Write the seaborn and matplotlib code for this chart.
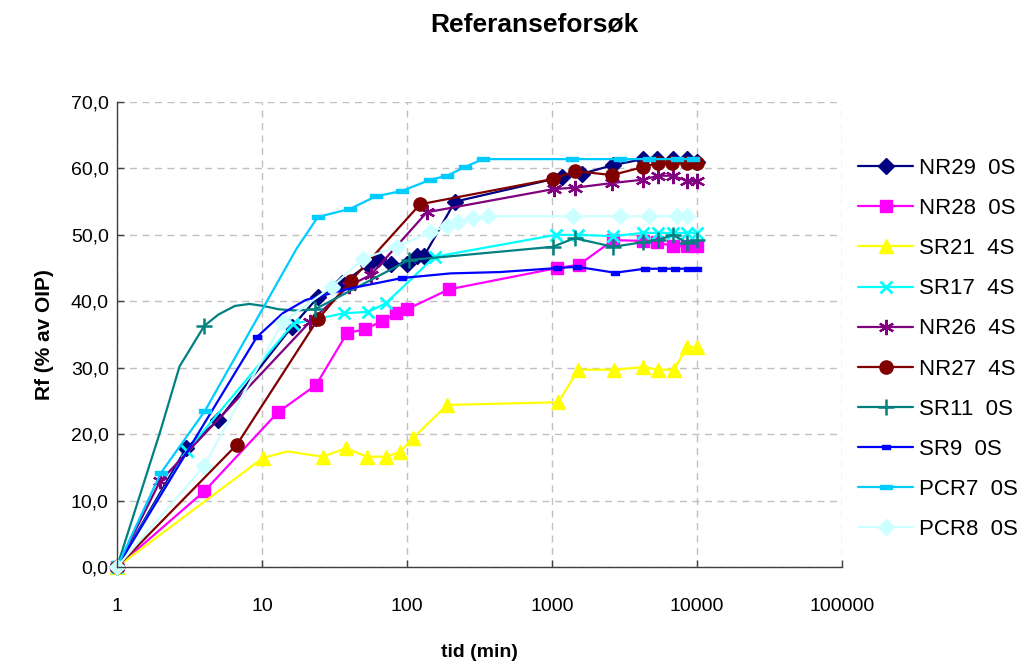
import numpy as np
import pandas as pd
import matplotlib
matplotlib.use("Agg")
import matplotlib.pyplot as plt
from matplotlib.ticker import FuncFormatter, FixedLocator, NullLocator
import seaborn as sns

# ---------------- data ----------------
NR29_t = [1, 3, 5, 16, 24.3, 35.6, 53.9, 63, 77.5, 100, 117, 131, 214, 1170, 1610, 2640, 4240, 5300, 6830, 8530, 10000]
NR29_y = [0, 17.9, 22.1, 36.1, 40.6, 42.7, 45.5, 46.4, 45.6, 45.6, 46.8, 46.8, 55.0, 58.7, 59.2, 60.5, 61.4, 61.4, 61.4, 61.4, 61.0]

NR28_t = [1, 4, 12.9, 23.6, 38.6, 51.3, 67.3, 84, 100, 195, 1083, 1535, 2640, 4240, 5300, 6830, 8530, 10000]
NR28_y = [0, 11.4, 23.3, 27.4, 35.2, 35.8, 37.0, 38.2, 38.8, 41.8, 45.0, 45.5, 49.2, 49.1, 48.9, 48.3, 48.3, 48.3]

SR21_t = [1, 10.1, 15, 26.3, 38, 52.7, 71.5, 89.5, 110, 189, 1107, 1518, 2690, 4270, 5380, 6940, 8530, 10000]
SR21_y = [0, 16.4, 17.4, 16.6, 17.9, 16.6, 16.6, 17.3, 19.4, 24.4, 24.8, 29.7, 29.7, 30.1, 29.7, 29.7, 33.1, 33.1]
SR21_nomark = [15]

SR17_t = [1, 3.04, 16.4, 36.7, 53.9, 71.5, 155, 1064, 1518, 2640, 4240, 5380, 6830, 8530, 10000]
SR17_y = [0, 17.5, 36.6, 38.2, 38.4, 39.7, 46.7, 50.0, 50.0, 49.8, 50.3, 50.3, 50.3, 50.3, 50.3]

NR26_t = [1, 1.98, 21.4, 39.8, 56.5, 137, 1030, 1450, 2590, 4240, 5380, 6830, 8530, 10000]
NR26_y = [0, 12.9, 36.9, 42.3, 44.0, 53.4, 56.9, 57.1, 57.8, 58.3, 58.9, 58.9, 58.1, 58.1]

NR27_t = [1, 6.7, 24.3, 41.1, 123, 1010, 1450, 2590, 4240, 5380, 6680, 8530, 10000]
NR27_y = [0, 18.4, 37.3, 43.1, 54.6, 58.4, 59.6, 59.0, 60.2, 60.8, 60.8, 60.8, 60.8]

SR11_t = [1, 2, 2.7, 4, 5, 6.5, 8.2, 10.2, 13, 17.4, 23.2, 103, 1012, 1430, 2640, 4240, 5380, 6830, 8530, 10000]
SR11_y = [0, 20.6, 30.2, 36.3, 38.0, 39.3, 39.6, 39.3, 38.8, 38.6, 38.8, 46.2, 48.2, 49.5, 48.2, 48.9, 49.2, 50.0, 48.8, 49.2]
SR11_nomark = [2, 2.7, 5, 6.5, 8.2, 10.2, 13, 17.4]

SR9_t = [1, 9.2, 13.9, 20, 40, 92.3, 200, 437, 1083, 1480, 2720, 4370, 5720, 7050, 8700, 10000]
SR9_y = [0, 34.6, 38.2, 40.2, 41.9, 43.5, 44.2, 44.4, 45.0, 45.2, 44.3, 44.9, 44.9, 44.9, 44.9, 44.9]
SR9_nomark = [13.9, 20, 40, 200, 437]

PCR7_t = [1, 2, 4.04, 10, 17.4, 24.3, 40.4, 61, 92, 145, 189, 250, 334, 1370, 2950, 4700, 7250, 9400]
PCR7_y = [0, 14.1, 23.5, 38.7, 48.0, 52.7, 53.9, 55.8, 56.6, 58.3, 58.9, 60.2, 61.4, 61.4, 61.4, 61.4, 61.4, 61.4]
PCR7_nomark = [10, 17.4]

PCR8_t = [1, 3.98, 13.9, 30.4, 49.9, 85, 144, 189, 224, 283, 360, 1400, 2950, 4700, 7250, 8530]
PCR8_y = [0, 15.2, 36.9, 42.2, 46.4, 48.2, 50.4, 51.3, 51.9, 52.6, 52.8, 52.8, 52.8, 52.8, 52.8, 52.8]

labels = ["NR29  0S", "NR28  0S", "SR21  4S", "SR17  4S", "NR26  4S",
          "NR27  4S", "SR11  0S", "SR9  0S", "PCR7  0S", "PCR8  0S"]
x_ticks = [1, 10, 100, 1000, 10000, 100000]
y_ticks = [0, 10, 20, 30, 40, 50, 60, 70]

# ---------------- style ----------------
sns.set_theme(style="white")
plt.rcParams['font.family'] = ['Liberation Sans', 'DejaVu Sans']
plt.rcParams['text.color'] = 'black'
plt.rcParams['axes.labelcolor'] = 'black'
plt.rcParams['xtick.color'] = 'black'
plt.rcParams['ytick.color'] = 'black'

bar = [(-1, -0.4), (1, -0.4), (1, 0.4), (-1, 0.4), (-1, -0.4)]
series = [
    (NR29_t, NR29_y, [], "#000080", "D", 8.5, 1),
    (NR28_t, NR28_y, [], "#FF00FF", "s", 9, 1),
    (SR21_t, SR21_y, SR21_nomark, "#FFFF00", "^", 10, 1),
    (SR17_t, SR17_y, [], "#00FFFF", "x", 9, 2),
    (NR26_t, NR26_y, [], "#800080", (6, 2, 0), 11, 1.6),
    (NR27_t, NR27_y, [], "#800000", "o", 9.5, 1),
    (SR11_t, SR11_y, SR11_nomark, "#008080", "+", 11, 1.8),
    (SR9_t, SR9_y, SR9_nomark, "#0000FF", bar, 6, 1),
    (PCR7_t, PCR7_y, PCR7_nomark, "#00CCFF", bar, 8, 1),
    (PCR8_t, PCR8_y, [], "#CCFFFF", "D", 8.5, 1),
]

fig = plt.figure(figsize=(10.28, 6.61), dpi=100)
ax = fig.add_axes([117 / 1028, 1 - 567 / 661, 725 / 1028, 465 / 661])

for (t, y, nomark, col, mk, ms, mew), lab in zip(series, labels):
    df = pd.DataFrame({"t": t, "y": y})
    idx = [i for i, v in enumerate(t) if v not in nomark]
    sns.lineplot(data=df, x="t", y="y", ax=ax, sort=False, color=col, lw=1.6,
                 marker=mk, markersize=ms, markeredgewidth=mew,
                 markeredgecolor=col, markerfacecolor=col, markevery=idx,
                 label=lab, clip_on=False)

ax.set_xscale("log")
ax.set_xlim(1, 100000)
ax.set_ylim(0, 70)
ax.xaxis.set_major_locator(FixedLocator(x_ticks))
ax.xaxis.set_minor_locator(NullLocator())
ax.yaxis.set_major_locator(FixedLocator(y_ticks))
ax.xaxis.set_major_formatter(FuncFormatter(lambda v, p: f"{int(round(v))}"))
ax.yaxis.set_major_formatter(FuncFormatter(lambda v, p: f"{v:.1f}".replace(".", ",")))

ax.grid(True, which="major", color="#c0c0c0", linestyle=(0, (5, 4)), linewidth=1)
for s in ["top", "right"]:
    ax.spines[s].set_visible(False)
for s in ["left", "bottom"]:
    ax.spines[s].set_color("#404040")
    ax.spines[s].set_linewidth(1)
ax.tick_params(axis="both", direction="in", length=5, width=1, color="#404040",
               labelsize=14, labelcolor="black")
ax.tick_params(axis="y", pad=6, left=True)
ax.tick_params(axis="x", pad=22, bottom=True)

ax.set_xlabel("tid (min)", fontsize=14, fontweight="bold", labelpad=21, color="black")
ax.set_ylabel("Rf (% av OIP)", fontsize=15, fontweight="bold", labelpad=12, color="black")
fig.text(534 / 1028, 1 - 25 / 661, "Referanseforsøk", fontsize=19, fontweight="bold",
         ha="center", va="center", color="black")

h, l = ax.get_legend_handles_labels()
leg = ax.legend(h, l, loc="upper left", bbox_to_anchor=(858 / 1028, 1 - 158 / 661),
                bbox_transform=fig.transFigure, frameon=False, fontsize=16,
                handlelength=2.48, handletextpad=0.27, labelspacing=0.86,
                borderpad=0, borderaxespad=0, markerscale=1.0)
for txt in leg.get_texts():
    txt.set_color("black")

fig.savefig("out.png", dpi=100)
